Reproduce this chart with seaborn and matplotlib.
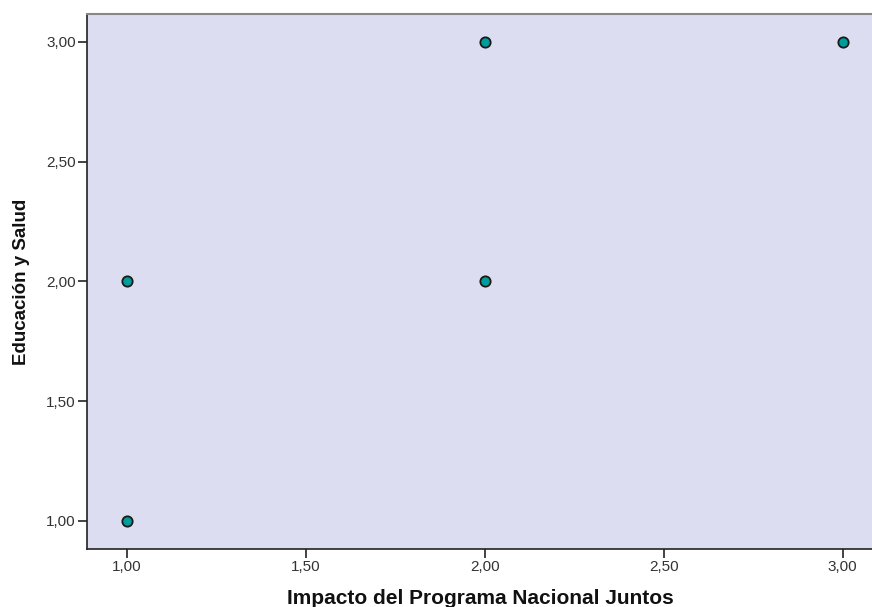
import matplotlib
matplotlib.use("Agg")
import matplotlib.pyplot as plt
import seaborn as sns
import pandas as pd
from matplotlib.ticker import FuncFormatter

impacto = [1, 1, 2, 2, 3]
educacion = [1, 2, 2, 3, 3]
xticks = [1.0, 1.5, 2.0, 2.5, 3.0]
yticks = [1.0, 1.5, 2.0, 2.5, 3.0]

sns.set_style("white")
plt.rcParams['font.family'] = ['Liberation Sans', 'DejaVu Sans']

df = pd.DataFrame({"Impacto del Programa Nacional Juntos": impacto,
                   "Educación y Salud": educacion})

fig = plt.figure(figsize=(8.72, 6.07), dpi=100)
ax = fig.add_axes([87/872, 58/607, 1 - 87/872 + 0.002, (549-14)/607])
ax.set_facecolor("#DDDDF1")
sns.scatterplot(data=df, x="Impacto del Programa Nacional Juntos", y="Educación y Salud",
                ax=ax, s=55, color="#009B9B", edgecolor="#1a1a1a", linewidth=1.3, zorder=3)
ax.set_xlim(1 - 40/358, 3 + 31/358)
ax.set_ylim(1 - 28/239.5, 3 + 28/239.5)
ax.set_xticks(xticks)
ax.set_yticks(yticks)
fmt = FuncFormatter(lambda v, p: f"{v:.2f}".replace(".", ","))
ax.xaxis.set_major_formatter(fmt)
ax.yaxis.set_major_formatter(fmt)
ax.tick_params(axis="both", direction="out", length=6.5, width=1.2, color="#222222",
               labelsize=11, labelcolor="#333333", bottom=True, left=True, pad=1.5)
for s in ["left", "bottom"]:
    ax.spines[s].set_color("#222222")
    ax.spines[s].set_linewidth(1.2)
ax.spines["top"].set_color("#888888")
ax.spines["top"].set_linewidth(1.5)
ax.spines["right"].set_visible(False)
ax.set_xlabel("Impacto del Programa Nacional Juntos", fontsize=15, fontweight="bold",
              labelpad=11, color="#111111")
ax.set_ylabel("Educación y Salud", fontsize=13.5, fontweight="bold", labelpad=12,
              color="#111111")
fig.savefig("out.png", dpi=100)
